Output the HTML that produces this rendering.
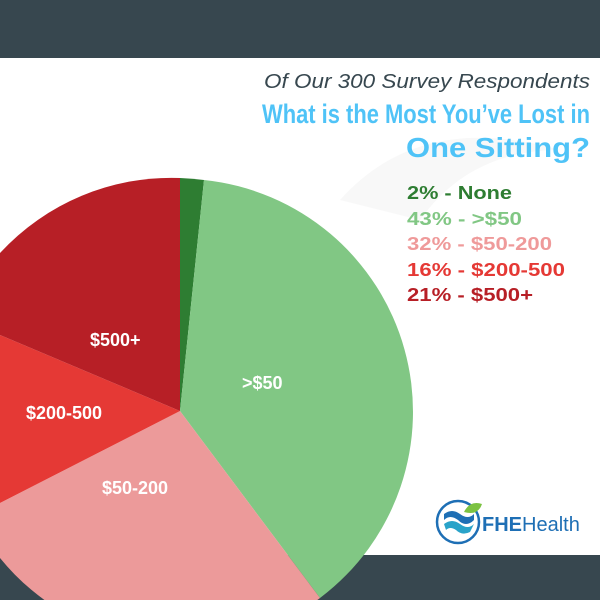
<!DOCTYPE html>
<html><head><meta charset="utf-8"><style>
html,body{margin:0;padding:0;background:#fff;width:600px;height:600px;overflow:hidden}
svg{display:block}
text{font-family:"Liberation Sans",sans-serif}
</style></head><body>
<svg width="600" height="600" viewBox="0 0 600 600">
<rect width="600" height="600" fill="#fff"/>
<rect x="0" y="0" width="600" height="58" fill="#37474f"/>
<rect x="0" y="555" width="600" height="45" fill="#37474f"/>
<path d="M340 200 Q420 110 560 150 Q470 150 420 220 Z" fill="#f8f8f8"/>
<g>
<path d="M180 411 L180 178 A233 233 0 0 1 204 180 Z" fill="#2e7d32"/>
<path d="M180 411 L204 180 A233 233 0 0 1 320 598 Z" fill="#81c784"/>
<path d="M180 411 L320 598 A233 233 0 0 1 0 558 L0 503 Z" fill="#ec9a9a"/>
<path d="M180 411 L0 503 L0 335 Z" fill="#e53935"/>
<path d="M180 411 L0 335 L0 253 A233 233 0 0 1 180 178 Z" fill="#b71f26"/>
</g>
<g fill="#fff" font-weight="bold" font-size="18">
<text x="90" y="346">$500+</text>
<text x="242" y="389">&gt;$50</text>
<text x="26" y="419">$200-500</text>
<text x="102" y="494">$50-200</text>
</g>
<text x="590" y="88" text-anchor="end" font-size="20" font-style="italic" fill="#37474f" textLength="326" lengthAdjust="spacingAndGlyphs">Of Our 300 Survey Respondents</text>
<text x="590" y="123" text-anchor="end" font-size="27" font-weight="bold" fill="#4fc3f7" textLength="328" lengthAdjust="spacingAndGlyphs">What is the Most You’ve Lost in</text>
<text x="590" y="157" text-anchor="end" font-size="28" font-weight="bold" fill="#4fc3f7" textLength="184" lengthAdjust="spacingAndGlyphs">One Sitting?</text>
<g font-size="18" font-weight="bold">
<text x="407" y="199" fill="#2e7d32" textLength="105" lengthAdjust="spacingAndGlyphs">2% - None</text>
<text x="407" y="225" fill="#81c784" textLength="115" lengthAdjust="spacingAndGlyphs">43% - &gt;$50</text>
<text x="407" y="250" fill="#ef9a9a" textLength="145" lengthAdjust="spacingAndGlyphs">32% - $50-200</text>
<text x="407" y="276" fill="#e53935" textLength="158" lengthAdjust="spacingAndGlyphs">16% - $200-500</text>
<text x="407" y="301" fill="#b71f26" textLength="126" lengthAdjust="spacingAndGlyphs">21% - $500+</text>
</g>
<g>
<circle cx="458" cy="522" r="21" fill="none" stroke="#1e6fb5" stroke-width="2.5"/>
<path d="M444 514 Q452 508 460 514 Q468 520 474 514 L474 520 Q466 528 458 520 Q450 514 444 520 Z" fill="#1e6fb5"/>
<path d="M444 524 Q452 518 460 524 Q468 530 474 524 L470 532 Q462 536 456 530 Q450 526 446 530 Z" fill="#29a3c9"/>
<path d="M464 512 Q470 500 482 504 Q478 516 464 512 Z" fill="#7cc242"/>
<text x="482" y="531" font-size="20" font-weight="bold" fill="#1e6fb5">FHE<tspan font-weight="normal">Health</tspan></text>
</g>
</svg>
</body></html>
